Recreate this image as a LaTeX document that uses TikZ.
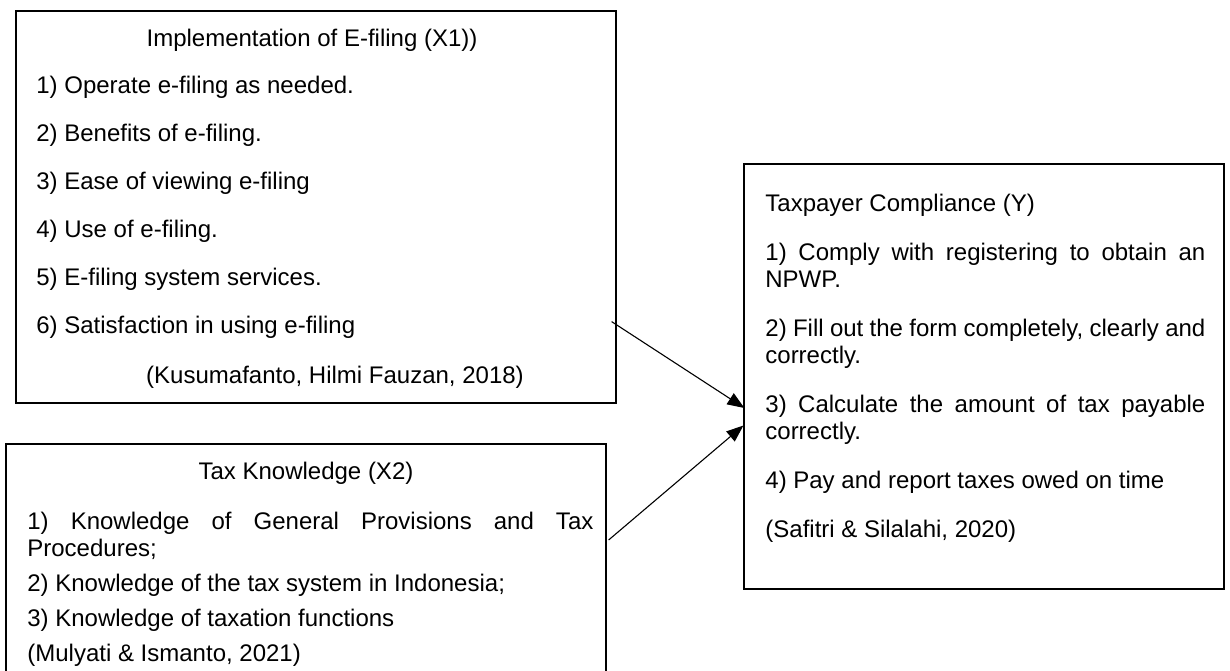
\documentclass[tikz,border=0pt]{standalone}
\usepackage{fontspec}
\setmainfont{Liberation Sans}
\usetikzlibrary{positioning,arrows.meta,calc}
\tolerance=10000
\hyphenpenalty=10000

\begin{document}
\begin{tikzpicture}[
  x=0.5pt,y=-0.5pt,
  font=\fontsize{12}{13.5}\selectfont,
  frame/.style={draw,line width=0.6pt,inner sep=0pt},
  txt/.style={inner sep=0pt,anchor=north west},
  ttl/.style={inner sep=0pt,anchor=base},
  ar/.style={-{Triangle[length=8.5pt,width=6.5pt]},line width=0.55pt}
]
\useasboundingbox (0,0) rectangle (1230,670);
% the three boxes
\node[frame,minimum width=300pt,minimum height=196pt] (x1) at (316,207) {};
\node[frame,minimum width=300pt,minimum height=118pt] (x2) at (306,562) {};
\node[frame,minimum width=240pt,minimum height=212.5pt] (y) at (984,376.5) {};
% X1
\node[ttl] (x1t) at (312,46) {Implementation of E-filing (X1))};
\node[txt,align=left,font=\fontsize{12}{24}\selectfont] (x1l) at (36,75.5)
  {1) Operate e-filing as needed.\\2) Benefits of e-filing.\\3) Ease of viewing e-filing\\
   4) Use of e-filing.\\5) E-filing system services.\\6) Satisfaction in using e-filing};
\node[ttl] (x1c) at (335,383) {(Kusumafanto, Hilmi Fauzan, 2018)};
% X2
\node[ttl] (x2t) at (306,479) {Tax Knowledge (X2)};
\node[txt,text width=283pt,align=justify] (x2l) at (27,511.5)
  {1) Knowledge of General Provisions and Tax Procedures;\\[4pt]
   2) Knowledge of the tax system in Indonesia;\\[4pt]
   3) Knowledge of taxation functions\\[4pt]
   (Mulyati \& Ismanto, 2021)};
% Y
\node[txt,text width=220pt,align=justify] (yl) at (765,193.5)
  {Taxpayer Compliance (Y)\\[11pt]
   1) Comply with registering to obtain an NPWP.\\[11pt]
   2) Fill out the form completely, clearly and correctly.\\[11pt]
   3) Calculate the amount of tax payable correctly.\\[11pt]
   4) Pay and report taxes owed on time\\[11pt]
   (Safitri \& Silalahi, 2020)};
% links
\draw[ar] ([shift={(-5,-82)}]x1.south east) -- ([shift={(1,31.5)}]y.west);
\draw[ar] ([shift={(2,-22)}]x2.east) -- ([shift={(0,49)}]y.west);
\end{tikzpicture}
\end{document}
